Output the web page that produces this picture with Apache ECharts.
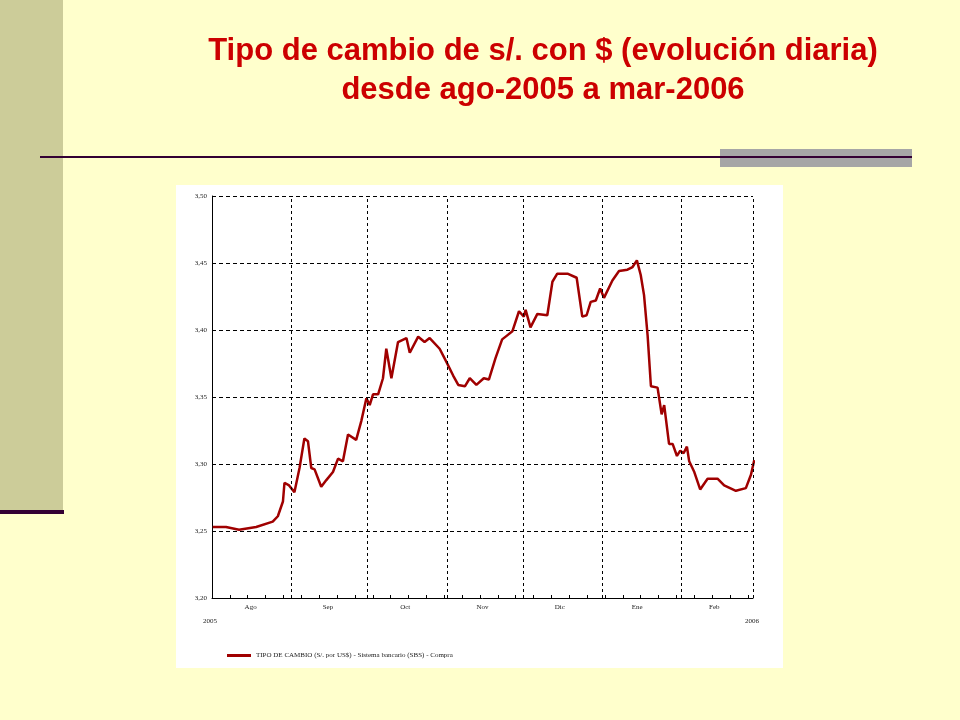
<!DOCTYPE html>
<html><head><meta charset="utf-8">
<script src="https://cdn.jsdelivr.net/npm/echarts@6/dist/echarts.min.js"></script>
<style>html,body{margin:0;padding:0;background:#FFFFCC}#c{width:960px;height:720px}</style>
</head><body><div id="c"></div>
<script>
const days = [0.3,5.5,10.6,17.3,23.8,25.8,27.8,28.4,30.2,32.3,34.3,36.2,37.6,38.9,40.2,42.8,44.8,47.4,49.4,51.3,53.3,56.5,58.5,60.5,61.8,63.1,65.1,67.0,68.3,70.3,72.9,76.2,77.5,80.8,83.3,85.3,89.2,91.9,94.5,96.5,99.1,101.0,103.6,106.5,108.5,111.1,113.7,115.7,117.7,120.3,122.2,122.9,124.8,127.5,131.4,133.4,135.3,139.3,142.9,145.1,146.8,148.4,150.4,152.1,153.6,156.9,159.5,162.8,164.8,166.5,168.0,169.3,170.7,172.0,174.6,176.2,177.2,179.1,180.5,182.2,183.5,184.8,186.1,187.0,189.0,191.3,194.2,198.1,200.7,205.3,209.2,211.2,212.5];
const rates = [3.253,3.253,3.251,3.253,3.257,3.261,3.272,3.286,3.284,3.279,3.297,3.319,3.317,3.297,3.296,3.283,3.288,3.294,3.304,3.302,3.322,3.318,3.332,3.349,3.344,3.352,3.352,3.364,3.386,3.364,3.391,3.394,3.383,3.395,3.391,3.394,3.386,3.376,3.366,3.359,3.358,3.364,3.359,3.364,3.363,3.379,3.393,3.396,3.399,3.414,3.410,3.415,3.402,3.412,3.411,3.436,3.442,3.442,3.439,3.410,3.411,3.421,3.422,3.431,3.424,3.437,3.444,3.445,3.447,3.452,3.441,3.426,3.396,3.358,3.357,3.337,3.344,3.315,3.315,3.306,3.310,3.308,3.313,3.302,3.294,3.281,3.289,3.289,3.284,3.280,3.282,3.292,3.303];
const months = ['Ago','Sep','Oct','Nov','Dic','Ene','Feb'];
const monthStarts = [31,61,92,122,153,184,212];
const yTicks = [3.20,3.25,3.30,3.35,3.40,3.45,3.50];
const seriesName = 'TIPO DE CAMBIO (S/. por US$) - Sistema bancario (SBS) - Compra';

const chart = echarts.init(document.getElementById('c'));
const small = {fontFamily:'Liberation Serif', fontSize:7, color:'#222'};
chart.setOption({
  backgroundColor:'#FFFFCC',
  animation:false,
  title:{text:'Tipo de cambio de s/. con $ (evolución diaria)\ndesde ago-2005 a mar-2006',left:538,top:27,textAlign:'center',
    textStyle:{color:'#CC0000',fontFamily:'Liberation Sans',fontWeight:'bold',fontSize:31,lineHeight:39}},
  graphic:[
    {type:'rect',shape:{x:0,y:0,width:63,height:510},style:{fill:'#CCCC99'},z:-1},
    {type:'rect',shape:{x:0,y:510,width:64,height:4},style:{fill:'#330033'},z:-1},
    {type:'rect',shape:{x:720,y:149,width:192,height:18},style:{fill:'#A6A6A6'},z:-1},
    {type:'rect',shape:{x:40,y:156,width:872,height:2},style:{fill:'#330033'},z:0},
    {type:'rect',shape:{x:176,y:185,width:607,height:483},style:{fill:'#FFFFFF'},z:-1},
    {type:'text',left:203,top:618,style:{text:'2005',font:'7px "Liberation Serif"',fill:'#222'}},
    {type:'text',left:745,top:618,style:{text:'2006',font:'7px "Liberation Serif"',fill:'#222'}}
  ],
  legend:{left:222,top:647,itemWidth:24,itemHeight:3,icon:'rect',textStyle:small,data:[seriesName]},
  grid:{left:212,right:207,top:196,bottom:122},
  xAxis:[
    {type:'value',min:0,max:212,interval:7,axisLabel:{show:false},splitLine:{show:false},
     axisLine:{lineStyle:{color:'#000'}},axisTick:{length:3,inside:true,lineStyle:{color:'#000'}}},
    {type:'category',data:months,position:'bottom',boundaryGap:true,axisLine:{show:false},axisTick:{show:false},
     axisLabel:{...small,margin:6}}
  ],
  yAxis:{type:'value',min:3.20,max:3.50,interval:0.05,
    axisLabel:{...small,margin:5,formatter:v=>v.toFixed(2).replace('.',',')},
    axisLine:{show:true,lineStyle:{color:'#000'}},axisTick:{show:false},
    splitLine:{lineStyle:{type:[4,3],color:'#000',width:1}}},
  series:[{name:seriesName,type:'line',xAxisIndex:0,data:days.map((d,i)=>[d,rates[i]]),
    showSymbol:false,lineStyle:{color:'#A00000',width:2.5},itemStyle:{color:'#A00000'},
    markLine:{silent:true,symbol:'none',label:{show:false},lineStyle:{type:[3,3],color:'#000',width:1},
      data:monthStarts.map(d=>({xAxis:d}))}}]
});
</script></body></html>
